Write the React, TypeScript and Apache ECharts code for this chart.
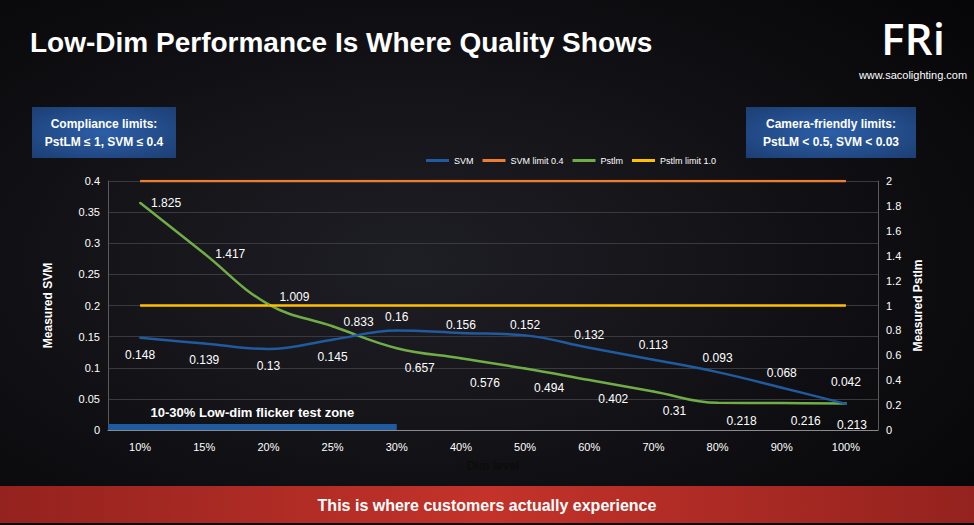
import React, { useRef, useEffect } from 'react';
import * as echarts from 'echarts';

const categories = ['10%', '15%', '20%', '25%', '30%', '40%', '50%', '60%', '70%', '80%', '90%', '100%'];
const svm = [0.148, 0.139, 0.13, 0.145, 0.16, 0.156, 0.152, 0.132, 0.113, 0.093, 0.068, 0.042];
const svmLimit = [0.4, 0.4, 0.4, 0.4, 0.4, 0.4, 0.4, 0.4, 0.4, 0.4, 0.4, 0.4];
const pstlm = [1.825, 1.417, 1.009, 0.833, 0.657, 0.576, 0.494, 0.402, 0.31, 0.218, 0.216, 0.213];
const pstlmLimit = [1.0, 1.0, 1.0, 1.0, 1.0, 1.0, 1.0, 1.0, 1.0, 1.0, 1.0, 1.0];
const zoneEnd = '30%';

const FONT = "'Liberation Sans', sans-serif";
const GRID = { left: 108, right: 96, top: 181, bottom: 95 };
const BLUE = '#1f5b9e';

// label placement for each point (style only)
const svmLabelPos: any[] = [
  { position: 'bottom', distance: 10 },
  { position: 'bottom', distance: 10 },
  { position: 'bottom', distance: 10 },
  { position: 'bottom', distance: 10 },
  { position: 'top', distance: 6 },
  { position: 'top', distance: 1 },
  { position: 'top', distance: 3 },
  { position: 'top', distance: 6 },
  { position: 'top', distance: 8 },
  { position: 'top', distance: 7 },
  { position: 'top', distance: 8 },
  { position: 'top', distance: 15 },
];
const pstLabelPos: any[] = [
  { position: 'right', distance: 10 },
  { position: 'right', distance: 10 },
  { position: 'right', distance: 10, offset: [0, -7] },
  { position: 'right', distance: 10, offset: [0, -4] },
  { position: 'bottom', distance: 13, offset: [23, 0] },
  { position: 'bottom', distance: 18, offset: [24, 0] },
  { position: 'bottom', distance: 13, offset: [24, 0] },
  { position: 'bottom', distance: 12, offset: [24, 0] },
  { position: 'bottom', distance: 13, offset: [21, 0] },
  { position: 'bottom', distance: 11, offset: [24, 0] },
  { position: 'bottom', distance: 11, offset: [24, 0] },
  { position: 'bottom', distance: 15, offset: [6, 0] },
];

const labelText = { color: '#fff', fontSize: 12, fontFamily: FONT };

const boxFill = () =>
  new echarts.graphic.RadialGradient(0.5, 0.5, 0.8, [
    { offset: 0, color: '#2c5fa8' },
    { offset: 1, color: '#1a3a6c' },
  ]);

const App: React.FC = () => {
  const chartRef = useRef<HTMLDivElement>(null);

  useEffect(() => {
    if (!chartRef.current) return;
    const chart = echarts.init(chartRef.current, null, { renderer: 'svg' });

    const option: any = {
      animation: false,
      backgroundColor: new echarts.graphic.RadialGradient(0.42, 0.5, 0.85, [
        { offset: 0, color: '#1e1e25' },
        { offset: 1, color: '#030304' },
      ]),
      textStyle: { fontFamily: FONT },
      title: {
        text: 'Low-Dim Performance Is Where Quality Shows',
        left: 25,
        top: 23,
        textStyle: { color: '#fff', fontSize: 28, fontWeight: 'bold', fontFamily: FONT },
      },
      legend: {
        left: 421,
        top: 151,
        itemWidth: 23,
        itemHeight: 3,
        itemGap: 9,
        icon: 'rect',
        textStyle: { color: '#fff', fontSize: 9, fontFamily: FONT },
        data: ['SVM', 'SVM limit 0.4', 'Pstlm', 'Pstlm limit 1.0'],
      },
      grid: { ...GRID },
      xAxis: {
        type: 'category',
        data: categories,
        name: 'Dim level',
        nameLocation: 'middle',
        nameGap: 30,
        nameTextStyle: { color: '#0c0c0c', fontSize: 12, fontWeight: 'bold', fontFamily: FONT },
        axisLine: { lineStyle: { color: '#8a8a8a', width: 1 } },
        axisTick: { show: false },
        axisLabel: { color: '#fff', fontSize: 11, margin: 11, fontFamily: FONT },
      },
      yAxis: [
        {
          type: 'value',
          min: 0,
          max: 0.4,
          interval: 0.05,
          name: 'Measured SVM',
          nameLocation: 'middle',
          nameGap: 54,
          nameTextStyle: { color: '#fff', fontSize: 12, fontWeight: 'bold', fontFamily: FONT },
          axisLine: { show: true, lineStyle: { color: '#5a5a5a' } },
          axisTick: { show: false },
          axisLabel: { color: '#fff', fontSize: 11, margin: 8, fontFamily: FONT },
          splitLine: { lineStyle: { color: '#3a3a3e', width: 1 } },
        },
        {
          type: 'value',
          min: 0,
          max: 2,
          interval: 0.2,
          name: 'Measured Pstlm',
          nameLocation: 'middle',
          nameGap: 32,
          nameTextStyle: { color: '#fff', fontSize: 12, fontWeight: 'bold', fontFamily: FONT },
          axisLine: { show: true, lineStyle: { color: '#5a5a5a' } },
          axisTick: { show: false },
          axisLabel: { color: '#fff', fontSize: 11, margin: 8, fontFamily: FONT },
          splitLine: { show: false },
        },
      ],
      series: [
        {
          name: 'SVM',
          type: 'line',
          yAxisIndex: 0,
          smooth: 0.4,
          symbol: 'circle',
          symbolSize: 2,
          z: 4,
          lineStyle: { color: BLUE, width: 2.5 },
          itemStyle: { color: BLUE },
          data: svm.map((v, i) => ({ value: v, label: { show: true, ...labelText, ...svmLabelPos[i] } })),
        },
        {
          name: 'SVM limit 0.4',
          type: 'line',
          yAxisIndex: 0,
          showSymbol: false,
          lineStyle: { color: '#ed7d31', width: 2.5 },
          itemStyle: { color: '#ed7d31' },
          data: svmLimit,
        },
        {
          name: 'Pstlm',
          type: 'line',
          yAxisIndex: 1,
          smooth: 0.4,
          symbol: 'circle',
          symbolSize: 2,
          z: 3,
          lineStyle: { color: '#70ad47', width: 2.5 },
          itemStyle: { color: '#70ad47' },
          data: pstlm.map((v, i) => ({ value: v, label: { show: true, ...labelText, ...pstLabelPos[i] } })),
        },
        {
          name: 'Pstlm limit 1.0',
          type: 'line',
          yAxisIndex: 1,
          showSymbol: false,
          lineStyle: { color: '#ffc000', width: 2.5 },
          itemStyle: { color: '#ffc000' },
          data: pstlmLimit,
        },
      ],
    };
    chart.setOption(option);

    // low-dim zone bar, placed from the axes' own scale
    const px0 = chart.convertToPixel({ xAxisIndex: 0 }, 0) as number;
    const px1 = chart.convertToPixel({ xAxisIndex: 0 }, 1) as number;
    const zoneStart = px0 - (px1 - px0) / 2;
    const zoneX = chart.convertToPixel({ xAxisIndex: 0 }, categories.indexOf(zoneEnd)) as number;
    const y0 = chart.convertToPixel({ yAxisIndex: 0 }, 0) as number;

    const boxText = (text: string, x: number) => ({
      type: 'text',
      x,
      y: 26,
      style: {
        text,
        fill: '#fff',
        fontSize: 12,
        fontWeight: 'bold',
        fontFamily: FONT,
        lineHeight: 18,
        textAlign: 'center',
        textVerticalAlign: 'middle',
      },
    });

    chart.setOption({
      graphic: [
        {
          type: 'rect',
          id: 'zone',
          shape: { x: zoneStart, y: y0 - 6, width: zoneX - zoneStart, height: 6 },
          style: { fill: BLUE },
          z: 1,
        },
        {
          type: 'text',
          id: 'zoneText',
          x: (zoneStart + zoneX) / 2,
          y: y0 - 18,
          style: {
            text: '10-30% Low-dim flicker test zone',
            fill: '#fff',
            fontSize: 13,
            fontWeight: 'bold',
            fontFamily: FONT,
            textAlign: 'center',
            textVerticalAlign: 'middle',
          },
          z: 10,
        },
        {
          type: 'group',
          id: 'box1',
          x: 32,
          y: 107,
          children: [
            { type: 'rect', shape: { x: 0, y: 0, width: 144, height: 51 }, style: { fill: boxFill() } },
            boxText('Compliance limits:\nPstLM ≤ 1, SVM ≤ 0.4', 72),
          ],
        },
        {
          type: 'group',
          id: 'box2',
          x: 746,
          y: 107,
          children: [
            { type: 'rect', shape: { x: 0, y: 0, width: 170, height: 51 }, style: { fill: boxFill() } },
            boxText('Camera-friendly limits:\nPstLM < 0.5, SVM < 0.03', 85),
          ],
        },
        {
          type: 'text',
          id: 'logo',
          x: 913,
          y: 38,
          style: {
            text: 'FRi',
            fill: '#fff',
            fontSize: 44,
            fontWeight: 600,
            fontFamily: "'Open Sans', sans-serif",
            textAlign: 'center',
            textVerticalAlign: 'middle',
          },
        },
        {
          type: 'text',
          id: 'url',
          x: 913,
          y: 75,
          style: {
            text: 'www.sacolighting.com',
            fill: '#fff',
            fontSize: 11,
            fontFamily: FONT,
            textAlign: 'center',
            textVerticalAlign: 'middle',
          },
        },
        {
          type: 'rect',
          id: 'banner',
          shape: { x: 0, y: 486, width: 974, height: 37 },
          style: {
            fill: new echarts.graphic.LinearGradient(0, 0, 1, 0, [
              { offset: 0, color: '#94221e' },
              { offset: 0.5, color: '#c3332a' },
              { offset: 1, color: '#94221e' },
            ]),
          },
        },
        {
          type: 'text',
          id: 'bannerText',
          x: 487,
          y: 505,
          style: {
            text: 'This is where customers actually experience',
            fill: '#fff',
            fontSize: 16,
            fontWeight: 'bold',
            fontFamily: FONT,
            textAlign: 'center',
            textVerticalAlign: 'middle',
          },
        },
      ],
    });

    return () => {
      chart.dispose();
    };
  }, []);

  return (
    <div
      ref={chartRef}
      style={{ position: 'absolute', left: 0, top: 0, width: 974, height: 525 }}
    />
  );
};

export default App;
